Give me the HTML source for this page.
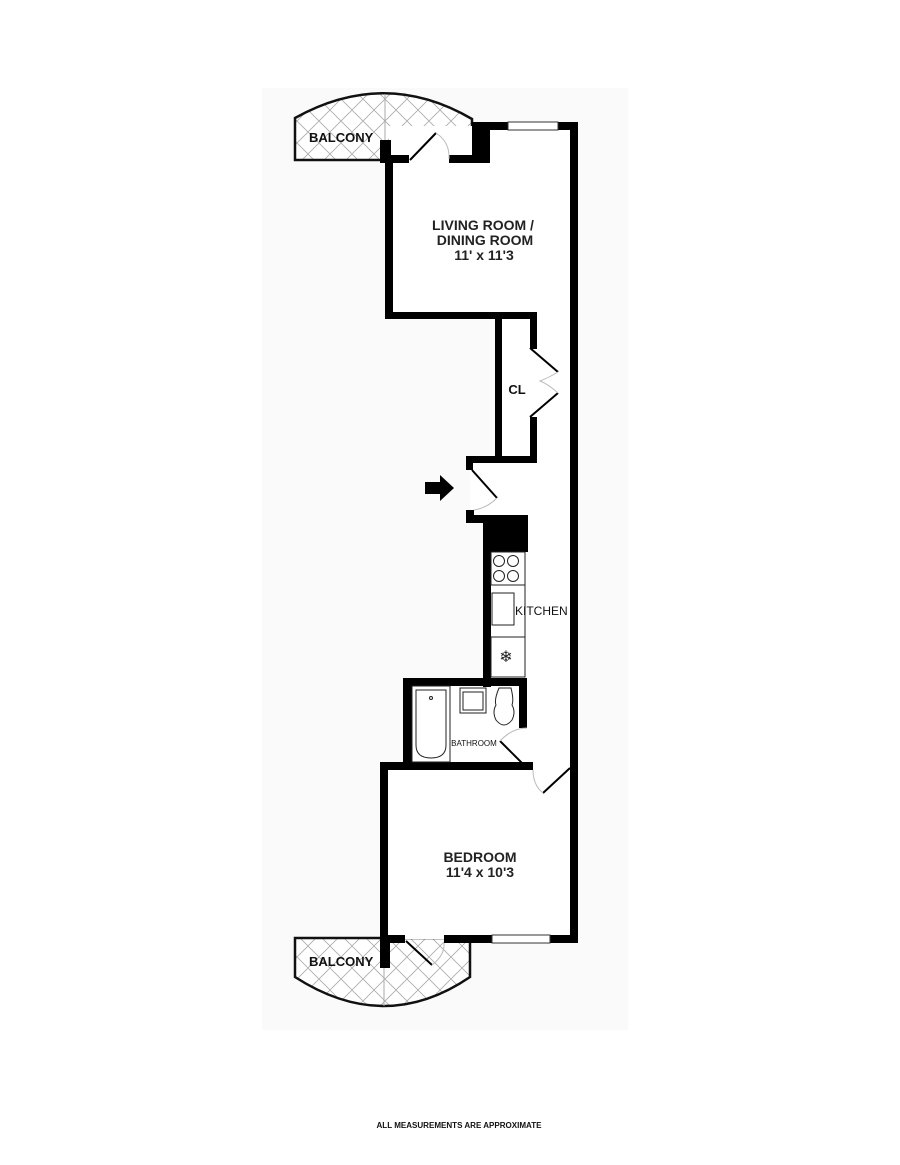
<!DOCTYPE html>
<html><head><meta charset="utf-8"><style>
html,body{margin:0;padding:0;background:#fff;}
svg{display:block}
text{font-family:"Liberation Sans",Arial,sans-serif;fill:#111}
</style></head><body>
<svg width="900" height="1165" viewBox="0 0 900 1165" xmlns="http://www.w3.org/2000/svg">
<defs>
<pattern id="hatch" width="22" height="22" patternUnits="userSpaceOnUse">
<path d="M0 0L22 22M22 0L0 22" stroke="#aaa" stroke-width="0.8"/>
</pattern>
</defs>
<rect x="262" y="88" width="366" height="942" fill="#fafafa"/>
<!-- top balcony -->
<path d="M295 118 Q385 68 472 119 L472 160 L295 160 Z" fill="#fff"/>
<path d="M295 118 Q385 68 472 119 L472 160 L295 160 Z" fill="url(#hatch)" stroke="#111" stroke-width="2.5"/>
<line x1="385" y1="94" x2="385" y2="140" stroke="#aaa" stroke-width="1"/>
<!-- bottom balcony -->
<path d="M295 938 L470 938 L470 977 Q385 1035 295 977 Z" fill="#fff"/>
<path d="M295 938 L470 938 L470 977 Q385 1035 295 977 Z" fill="url(#hatch)" stroke="#111" stroke-width="2.5"/>
<line x1="384" y1="968" x2="384" y2="1006" stroke="#aaa" stroke-width="1"/>
<!-- interior white -->
<path d="M389 159 L574 126 L574 939 L384 939 L384 766 L407 766 L407 682 L487 682 L487 519 L470 519 L470 460 L499 460 L499 316 L389 316 Z" fill="#fff"/>
<rect x="389" y="126" width="185" height="190" fill="#fff"/>
<g fill="#000">
<rect x="380" y="140" width="11" height="23"/>
<rect x="385" y="155" width="8" height="164"/>
<rect x="385" y="312" width="152" height="7"/>
<rect x="391" y="155" width="18" height="8"/>
<rect x="449" y="155" width="41" height="8"/>
<rect x="472" y="122" width="18" height="41"/>
<rect x="490" y="122" width="18" height="8"/>
<rect x="558" y="122" width="20" height="8"/>
<rect x="570" y="122" width="8" height="821"/>
<rect x="495" y="312" width="7" height="151"/>
<rect x="530" y="312" width="7" height="37"/>
<rect x="530" y="417" width="7" height="46"/>
<rect x="466" y="456" width="71" height="7"/>
<rect x="466" y="456" width="7" height="14"/>
<rect x="466" y="510" width="8" height="13"/>
<rect x="466" y="515" width="25" height="8"/>
<rect x="483" y="515" width="45" height="37"/>
<rect x="483" y="515" width="8" height="172"/>
<rect x="403" y="678" width="124" height="8"/>
<rect x="403" y="678" width="9" height="90"/>
<rect x="519" y="678" width="8" height="50"/>
<rect x="380" y="762" width="153" height="8"/>
<rect x="380" y="762" width="8" height="206"/>
<rect x="380" y="935" width="25" height="8"/>
<rect x="380" y="935" width="10" height="33"/>
<rect x="444" y="935" width="48" height="8"/>
<rect x="550" y="935" width="28" height="8"/>
<path d="M425 482 L440 482 L440 475 L454 488 L440 501 L440 494 L425 494 Z"/>
</g>
<rect x="508" y="122" width="50" height="8" fill="#fff" stroke="#333" stroke-width="1"/>
<rect x="492" y="935" width="58" height="8" fill="#fff" stroke="#333" stroke-width="1"/>
<g stroke="#000" stroke-width="2" fill="none">
<line x1="410" y1="160" x2="436" y2="133"/>
<line x1="530" y1="348" x2="558" y2="372"/>
<line x1="530" y1="417" x2="558" y2="393"/>
<line x1="472" y1="470" x2="497" y2="498"/>
<line x1="500" y1="741" x2="524" y2="765"/>
<line x1="543" y1="793" x2="570" y2="768"/>
<line x1="406" y1="941" x2="432" y2="965"/>
</g>
<g stroke="#bbb" stroke-width="1" fill="none">
<path d="M436 133 Q450 142 449 159"/>
<path d="M558 372 Q548 378 540 381 Q548 384 558 393"/>
<path d="M497 498 Q487 508 474 510"/>
<path d="M500 741 Q512 728 527 728"/>
<path d="M533 770 Q533 785 543 793"/>
<path d="M432 965 Q445 955 444 943"/>
</g>
<g stroke="#222" stroke-width="1" fill="#fff">
<rect x="491" y="552" width="34" height="33"/>
<circle cx="499" cy="561" r="5.5"/><circle cx="513" cy="561" r="5.5"/>
<circle cx="499" cy="576" r="5.5"/><circle cx="513" cy="576" r="5.5"/>
<rect x="492" y="593" width="22" height="32"/>
<rect x="491" y="637" width="34" height="40"/>
<line x1="525" y1="552" x2="525" y2="677"/>
<rect x="412" y="686" width="38" height="76" fill="none"/>
<path d="M416 690 L446 690 L446 745 Q446 758 431 758 Q416 758 416 745 Z"/>
<circle cx="431" cy="698" r="1.5"/>
<rect x="460" y="688" width="26" height="25"/>
<rect x="463" y="692" width="20" height="18"/>
<path d="M499 688 L511 688 Q514 700 512 705 Q516 712 512 720 Q504 730 496 720 Q492 712 496 705 Q494 700 499 688 Z"/>
</g>
<text x="506" y="662" font-size="16" text-anchor="middle" style="fill:#222">❄</text>
<text x="309" y="142" font-size="13" font-weight="bold">BALCONY</text>
<text x="309" y="966" font-size="13" font-weight="bold">BALCONY</text>
<text x="483" y="230" font-size="14" font-weight="bold" text-anchor="middle" style="fill:#222">LIVING ROOM /</text>
<text x="485" y="245" font-size="14" font-weight="bold" text-anchor="middle" style="fill:#222">DINING ROOM</text>
<text x="484" y="260" font-size="14" font-weight="bold" text-anchor="middle" style="fill:#222">11' x 11'3</text>
<text x="517" y="394" font-size="13" font-weight="bold" text-anchor="middle">CL</text>
<text x="515" y="615" font-size="12">KITCHEN</text>
<text x="474" y="746" font-size="8" text-anchor="middle">BATHROOM</text>
<text x="480" y="862" font-size="14" font-weight="bold" text-anchor="middle" style="fill:#222">BEDROOM</text>
<text x="480" y="877" font-size="14" font-weight="bold" text-anchor="middle" style="fill:#222">11'4 x 10'3</text>
<text x="459" y="1128" font-size="8" font-weight="bold" text-anchor="middle" textLength="165" lengthAdjust="spacingAndGlyphs">ALL MEASUREMENTS ARE APPROXIMATE</text>
</svg>
</body></html>
